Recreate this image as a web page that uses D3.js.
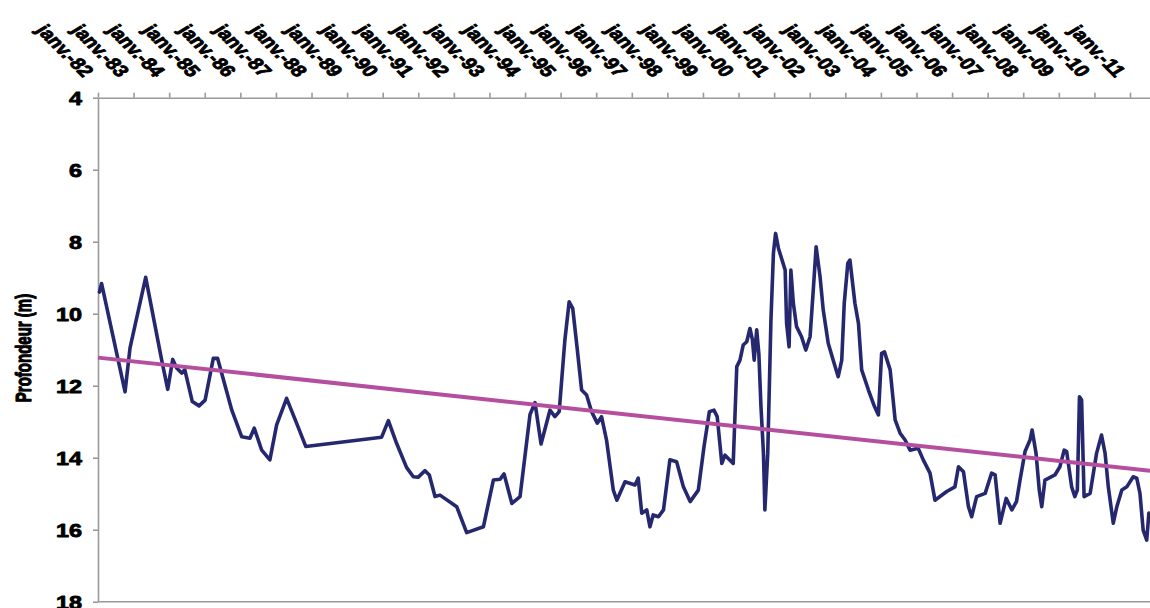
<!DOCTYPE html>
<html>
<head>
<meta charset="utf-8">
<script src="https://cdn.jsdelivr.net/npm/d3@7"></script>
<style>
  html, body { margin: 0; padding: 0; background: #fff; }
  svg { display: block; }
  text { font-family: "Liberation Sans", Arial, sans-serif; font-weight: bold; fill: #000; stroke: #000; stroke-width: 0.8px; stroke-linejoin: round; }
</style>
</head>
<body>
<svg id="chart" width="1150" height="608"></svg>
<script>
// ---- data (decimal year, depth in m) ----
const years = [
  1982.04,1982.10,1982.76,1982.90,1983.34,1983.79,1983.96,1984.10,1984.21,1984.35,1984.44,1984.65,1984.84,1985.01,1985.24,1985.36,1985.76,
  1986.04,1986.27,1986.39,1986.60,1986.83,1987.02,1987.30,1987.58,1987.84,1989.97,1990.16,1990.39,1990.67,1990.86,1991.00,1991.19,1991.31,
  1991.47,1991.61,1992.08,1992.36,1992.83,1993.11,1993.30,1993.41,1993.63,1993.86,1994.14,1994.28,1994.45,1994.70,1994.84,1994.96,1995.12,
  1995.24,1995.34,1995.47,1995.59,1995.73,1995.87,1996.03,1996.15,1996.29,1996.48,1996.58,1996.81,1997.09,1997.18,1997.28,1997.42,1997.51,
  1997.60,1997.75,1997.89,1998.07,1998.26,1998.45,1998.64,1998.87,1999.03,1999.18,1999.31,1999.40,1999.53,1999.62,1999.85,1999.95,2000.04,
  2000.13,2000.23,2000.32,2000.39,2000.44,2000.51,2000.57,2000.63,2000.70,2000.74,2000.82,2000.91,2000.98,2001.04,2001.12,2001.31,2001.35,
  2001.42,2001.47,2001.54,2001.63,2001.77,2001.89,2002.01,2002.10,2002.18,2002.29,2002.38,2002.52,2002.66,2002.80,2002.90,2002.97,2003.07,
  2003.13,2003.27,2003.37,2003.46,2003.65,2003.82,2003.93,2004.02,2004.10,2004.26,2004.40,2004.54,2004.68,2004.82,2005.05,2005.19,2005.38,
  2005.52,2005.66,2005.85,2006.08,2006.18,2006.32,2006.46,2006.55,2006.69,2006.93,2007.11,2007.21,2007.35,2007.52,2007.68,2007.81,2007.91,
  2008.05,2008.19,2008.25,2008.36,2008.45,2008.52,2008.61,2008.89,2009.03,2009.15,2009.22,2009.36,2009.45,2009.52,2009.58,2009.64,2009.71,
  2009.88,2010.06,2010.20,2010.30,2010.39,2010.53,2010.63,2010.77,2010.91,2011.09,2011.19,2011.28,2011.37,2011.47,2011.53
];
const depths = [
  9.40,9.16,12.17,10.95,8.99,11.29,12.10,11.27,11.51,11.65,11.56,12.44,12.56,12.40,11.24,11.24,12.68,
  13.42,13.46,13.18,13.79,14.06,13.09,12.35,13.04,13.69,13.43,12.97,13.60,14.27,14.53,14.54,14.36,14.48,
  15.08,15.04,15.36,16.08,15.92,14.62,14.60,14.45,15.27,15.08,12.80,12.47,13.62,12.68,12.86,12.72,10.73,
  9.67,9.85,11.01,12.12,12.26,12.72,13.04,12.86,13.51,14.90,15.18,14.67,14.76,14.57,15.54,15.45,15.92,
  15.59,15.64,15.45,14.06,14.11,14.81,15.22,14.90,13.69,12.72,12.68,12.86,14.16,13.93,14.16,11.47,11.29,
  10.87,10.78,10.41,10.73,11.29,10.45,11.10,12.58,13.88,15.45,13.88,10.18,8.32,7.77,8.18,8.79,10.27,
  10.92,8.79,9.71,10.36,10.64,11.01,10.64,9.34,8.14,8.97,9.90,10.82,11.29,11.75,11.29,9.71,8.60,
  8.51,9.71,10.27,11.56,12.12,12.58,12.81,11.10,11.06,11.56,12.95,13.32,13.51,13.79,13.74,14.06,14.43,
  15.18,15.08,14.94,14.81,14.25,14.39,15.36,15.64,15.08,14.99,14.43,14.48,15.82,15.13,15.45,15.22,14.62,
  13.83,13.51,13.23,13.88,14.90,15.36,14.62,14.48,14.25,13.79,13.83,14.81,15.08,14.90,12.31,12.40,15.08,
  14.99,13.88,13.37,13.88,14.81,15.82,15.36,14.90,14.81,14.53,14.57,14.99,16.01,16.29,15.54
];
// linear trend (start / end of the plotted period)
const trendYears = [1982.0, 2011.562];
const trendDepths = [11.22, 14.36];

// axis ticks
const tickYears = d3.range(1982, 2012);
const tickLabels = ["janv.-82","janv.-83","janv.-84","janv.-85","janv.-86","janv.-87","janv.-88","janv.-89","janv.-90","janv.-91",
  "janv.-92","janv.-93","janv.-94","janv.-95","janv.-96","janv.-97","janv.-98","janv.-99","janv.-00","janv.-01",
  "janv.-02","janv.-03","janv.-04","janv.-05","janv.-06","janv.-07","janv.-08","janv.-09","janv.-10","janv.-11"];
const depthTicks = [4, 6, 8, 10, 12, 14, 16, 18];
const yTitle = "Profondeur (m)";

(function () {
  // ---- layout ----
  const svg = d3.select("#chart");
  const pLeft = 98, pRight = 1150, pTop = 97.7, pBottom = 601.7;
  const SX = 1.3; // horizontal stretch of the original picture

  const x = d3.scaleLinear().domain([1982, 2011.562]).range([pLeft, pRight]);
  const y = d3.scaleLinear().domain([4, 18]).range([pTop, pBottom]);

  const axisColor = "#9a9a9a";

  // bottom frame line
  svg.append("line")
    .attr("x1", pLeft).attr("x2", pRight).attr("y1", pBottom).attr("y2", pBottom)
    .attr("stroke", axisColor).attr("stroke-width", 1.6);

  // left axis
  const yAxis = svg.append("g")
    .attr("transform", `translate(${pLeft},0)`)
    .call(d3.axisLeft(y).tickValues(depthTicks).tickSize(5).tickSizeOuter(0).tickFormat(""));
  yAxis.selectAll("path, line").attr("stroke", axisColor).attr("stroke-width", 1.6);

  svg.append("g").selectAll("text")
    .data(depthTicks)
    .join("text")
    .attr("transform", d => `translate(82,${y(d) + 7.5}) scale(${SX},1)`)
    .attr("text-anchor", "end")
    .attr("font-size", 18)
    .text(d => d);

  // top axis
  const xAxis = svg.append("g")
    .attr("transform", `translate(0,${pTop})`)
    .call(d3.axisTop(x).tickValues(tickYears).tickSize(5).tickSizeOuter(0).tickFormat(""));
  xAxis.selectAll("path, line").attr("stroke", axisColor).attr("stroke-width", 1.6);

  const rot = Math.atan(SX) * 180 / Math.PI; // appears as 45deg after stretch
  svg.append("g").selectAll("text")
    .data(tickYears)
    .join("text")
    .attr("transform", d => `translate(${x(d) - 15},78) scale(${SX},1) rotate(${rot})`)
    .attr("text-anchor", "end")
    .attr("font-size", 16.5)
    .text((d, i) => tickLabels[i]);

  // y title
  svg.append("text")
    .attr("transform", `translate(31,348) scale(1.5,1) rotate(-90)`)
    .attr("text-anchor", "middle")
    .attr("font-size", 15)
    .text(yTitle);

  // data line
  const pts = years.map((yr, i) => [yr, depths[i]]);
  const line = d3.line().x(d => x(d[0])).y(d => y(d[1]));
  svg.append("path")
    .datum(pts)
    .attr("d", line)
    .attr("fill", "none")
    .attr("stroke", "#25286f")
    .attr("stroke-width", 3.6)
    .attr("stroke-linejoin", "round")
    .attr("stroke-linecap", "round");

  // trend line
  svg.append("path")
    .datum(trendYears.map((yr, i) => [yr, trendDepths[i]]))
    .attr("d", line)
    .attr("fill", "none")
    .attr("stroke", "#b44f9f")
    .attr("stroke-width", 4);
})();
</script>
</body>
</html>
